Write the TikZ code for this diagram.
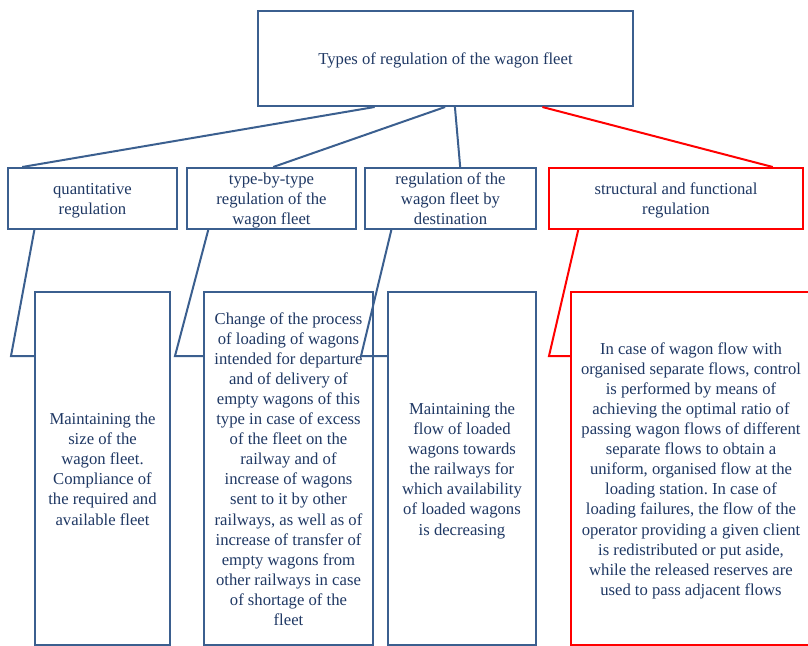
\documentclass[tikz,border=0pt]{standalone}
\usepackage{fontspec}
\setmainfont{Liberation Serif}
\usetikzlibrary{calc}
\definecolor{navytext}{HTML}{1F3864}
\definecolor{boxblue}{HTML}{3B5F8F}
\definecolor{boxred}{HTML}{FF0000}
\frenchspacing

\begin{document}
\begin{tikzpicture}[x=0.75pt, y=-0.75pt,
    box/.style={draw=boxblue, line width=1.5pt, fill=white,
      align=flush center, text=navytext, inner xsep=2pt, inner ysep=0pt,
      minimum width=#1, text width=#1-8pt,
      font=\fontsize{12.5}{15.05}\selectfont,
      execute at begin node={\rule{0pt}{12.5pt}},
      execute at end node={\rule[-3pt]{0pt}{3pt}}},
    redbox/.style={box=#1, draw=boxred},
    link/.style={draw=boxblue, line width=1.5pt, line join=miter},
    redlink/.style={link, draw=boxred}
  ]
  % Page size, the red box runs over the right edge
  \useasboundingbox (0,0) rectangle (808,646);
  \clip (0,0) rectangle (808,646);

  % Heights of the three rows
  \pgfmathsetlengthmacro{\toph}{71.25pt}
  \pgfmathsetlengthmacro{\midh}{45.75pt}
  \pgfmathsetlengthmacro{\lowh}{264.75pt}

  % Root
  \node[box=281.25pt, minimum height=\toph] (types)
    at (445.5,58.5) {Types of regulation of the wagon fleet};

  % Second row: the kinds of regulation
  \node[box=126.75pt, minimum height=\midh] (quant)
    at (92.5,198.5) {quantitative\\regulation};
  \node[box=126.75pt, minimum height=\midh] (bytype)
    at (271.5,198.5) {type-by-type\\regulation of the\\wagon fleet};
  \node[box=128.25pt, minimum height=\midh] (dest)
    at (450.5,198.5) {regulation of the\\wagon fleet by\\destination};
  \node[redbox=190.5pt, minimum height=\midh] (struct)
    at (676,198.5) {structural and functional\\regulation};

  % Third row: what each kind does
  \node[box=101.25pt, minimum height=\lowh] (quantd)
    at (102.5,468.5) {Maintaining the\\size of the\\wagon fleet.\\
      Compliance of\\the required and\\available fleet};
  \node[box=126.75pt, minimum height=\lowh] (bytyped)
    at (288.5,468.5) {Change of the process\\of loading of wagons\\
      intended for departure\\and of delivery of\\empty wagons of this\\
      type in case of excess\\of the fleet on the\\railway and of\\
      increase of wagons\\sent to it by other\\railways, as well as of\\
      increase of transfer of\\empty wagons from\\other railways in case\\
      of shortage of the\\fleet};
  \node[box=111pt, minimum height=\lowh] (destd)
    at (462,468.5) {Maintaining the\\flow of loaded\\wagons towards\\
      the railways for\\which availability\\of loaded wagons\\is decreasing};
  \node[redbox=180pt, minimum height=\lowh] (structd)
    at (691,468.5) {In case of wagon flow with\\
      organised separate flows, control\\is performed by means of\\
      achieving the optimal ratio of\\passing wagon flows of different\\
      separate flows to obtain a\\uniform, organised flow at the\\
      loading station. In case of\\loading failures, the flow of the\\
      operator providing a given client\\is redistributed or put aside,\\
      while the released reserves are\\used to pass adjacent flows};

  % Root to second row
  \foreach \low/\f/\g/\style in {quant/.312/.089/link, bytype/.499/.51/link,
      dest/.525/.556/link, struct/.757/.878/redlink} {
    \draw[\style] ($(types.south west)!\f!(types.south east)$)
      -- ($(\low.north west)!\g!(\low.north east)$);
  }

  % Second row to third row, with a bend left of the lower box
  \foreach \up/\low/\f/\dx/\style in {quant/quantd/.16/23/link,
      bytype/bytyped/.13/28/link, dest/destd/.158/26/link,
      struct/structd/.118/21/redlink} {
    \coordinate (bend) at ($(\low.north west)+(-\dx,65)$);
    \draw[\style] ($(\up.south west)!\f!(\up.south east)$) -- (bend)
      -- (bend -| \low.west);
  }
\end{tikzpicture}
\end{document}
